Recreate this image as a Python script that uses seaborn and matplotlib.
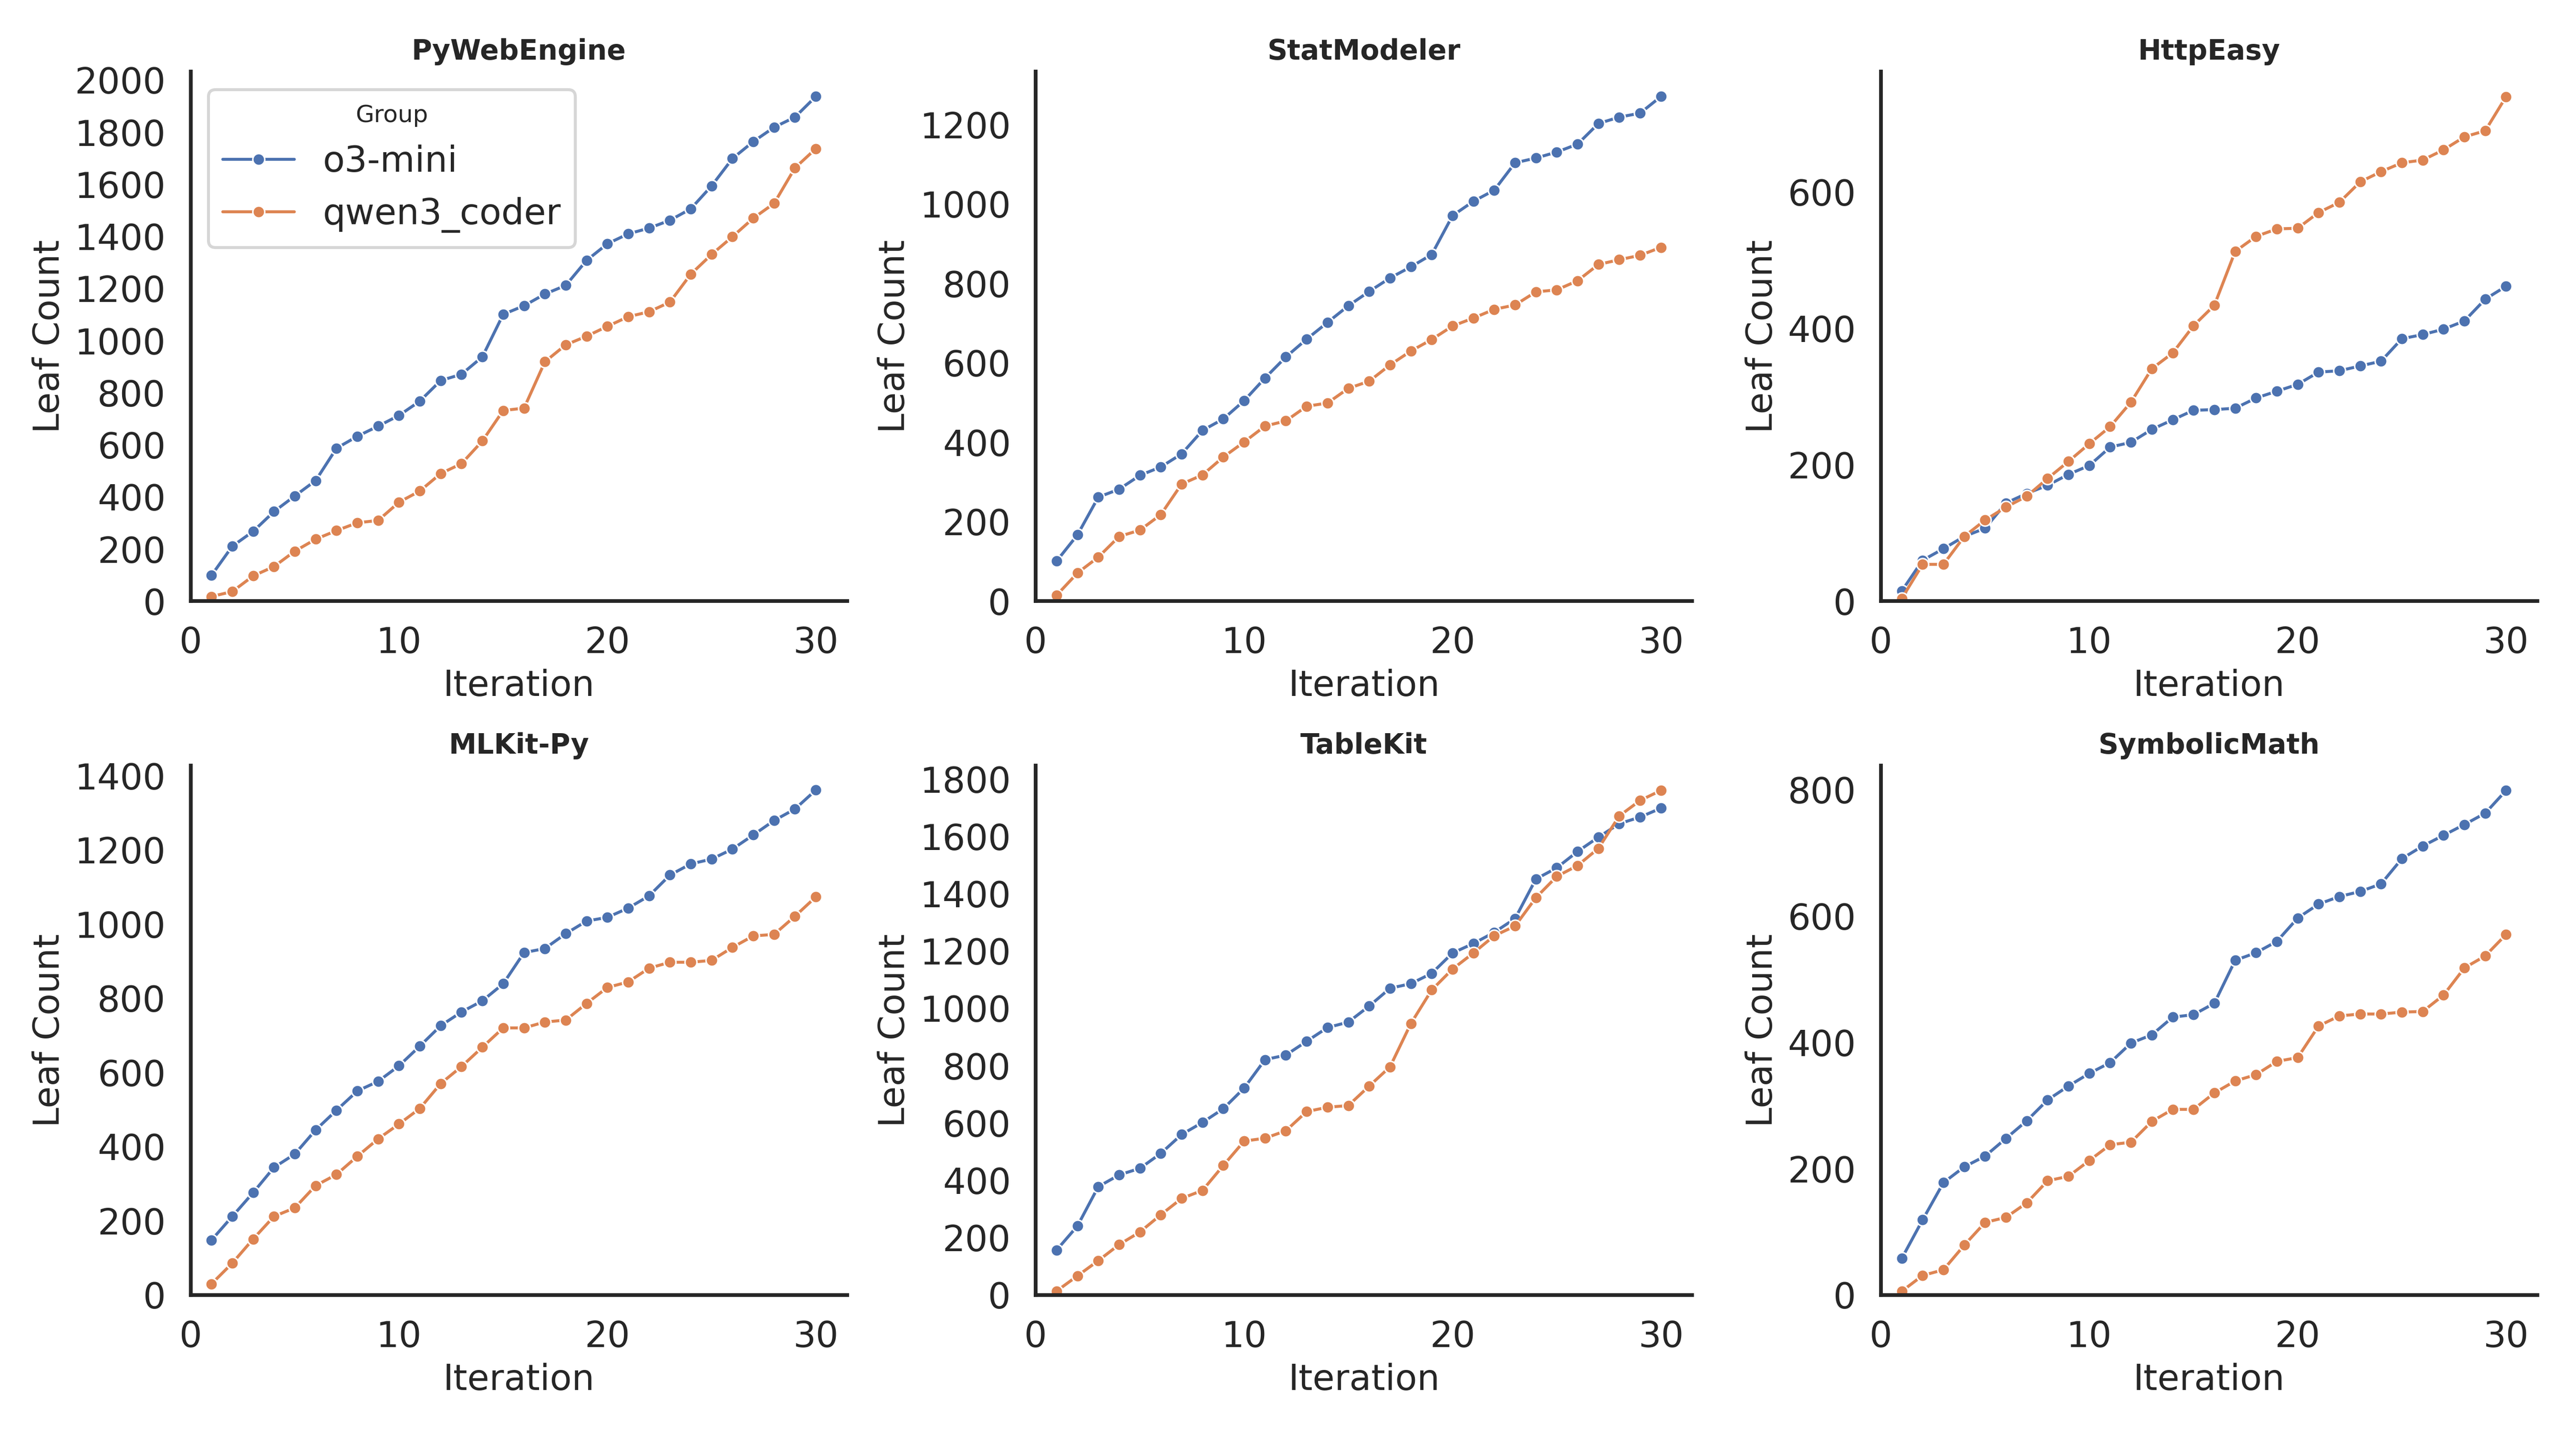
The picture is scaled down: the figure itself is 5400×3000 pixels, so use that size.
import numpy as np
import pandas as pd
import matplotlib.pyplot as plt
from matplotlib.ticker import MultipleLocator
import seaborn as sns

iterations = list(range(1, 31))
groups = ['o3-mini', 'qwen3_coder']
projects = ['PyWebEngine', 'StatModeler', 'HttpEasy', 'MLKit-Py', 'TableKit', 'SymbolicMath']

# leaf counts per project
pyweb_o3 = [99, 211, 268, 344, 404, 463, 587, 633, 672, 713, 768, 847, 871, 938, 1101,
            1134, 1179, 1212, 1308, 1372, 1410, 1432, 1462, 1506, 1594, 1699, 1764, 1819, 1858, 1937]
pyweb_qwen = [18, 37, 97, 133, 192, 238, 271, 301, 310, 380, 423, 490, 528, 615, 732,
              741, 919, 984, 1017, 1055, 1092, 1111, 1148, 1255, 1331, 1399, 1470, 1527, 1663, 1737]
stat_o3 = [101, 167, 262, 282, 317, 338, 371, 430, 459, 505, 562, 615, 660, 702, 744,
           780, 814, 842, 873, 971, 1007, 1035, 1104, 1116, 1131, 1151, 1203, 1219, 1229, 1271]
stat_qwen = [15, 71, 111, 163, 179, 218, 295, 318, 363, 401, 441, 454, 491, 499, 536,
             554, 595, 630, 659, 693, 713, 735, 746, 779, 784, 807, 848, 860, 871, 891]
http_o3 = [15, 60, 77, 95, 107, 144, 158, 170, 186, 199, 226, 233, 252, 266, 280,
           281, 283, 298, 308, 318, 336, 338, 345, 352, 385, 391, 399, 411, 443, 462]
http_qwen = [4, 54, 54, 95, 119, 138, 154, 180, 205, 231, 256, 292, 341, 364, 404,
             434, 513, 535, 546, 547, 570, 585, 615, 630, 643, 647, 662, 681, 690, 740]
mlkit_o3 = [148, 212, 276, 344, 380, 445, 498, 550, 576, 618, 671, 726, 763, 793, 839,
            923, 934, 974, 1008, 1018, 1043, 1076, 1132, 1162, 1175, 1202, 1240, 1279, 1310, 1361]
mlkit_qwen = [30, 86, 151, 212, 235, 295, 325, 374, 421, 461, 503, 570, 616, 668, 720,
              720, 736, 741, 786, 829, 844, 881, 897, 897, 902, 937, 968, 972, 1021, 1073]
table_o3 = [157, 241, 378, 419, 442, 494, 560, 602, 650, 722, 821, 837, 885, 933, 952,
            1008, 1070, 1086, 1122, 1193, 1226, 1265, 1313, 1451, 1490, 1547, 1597, 1644, 1667, 1698]
table_qwen = [14, 67, 120, 176, 220, 280, 337, 365, 452, 537, 547, 573, 640, 655, 661,
              729, 796, 947, 1064, 1137, 1193, 1253, 1287, 1386, 1460, 1498, 1558, 1671, 1725, 1760]
sym_o3 = [58, 119, 178, 203, 220, 248, 276, 309, 331, 351, 368, 399, 412, 440, 444,
          462, 530, 542, 560, 597, 619, 631, 639, 651, 691, 711, 728, 745, 763, 799]
sym_qwen = [6, 31, 40, 79, 115, 123, 146, 181, 188, 213, 238, 242, 275, 294, 294,
            320, 339, 349, 370, 376, 426, 442, 445, 445, 448, 449, 475, 518, 537, 571]

series = {
    'PyWebEngine': (pyweb_o3, pyweb_qwen),
    'StatModeler': (stat_o3, stat_qwen),
    'HttpEasy': (http_o3, http_qwen),
    'MLKit-Py': (mlkit_o3, mlkit_qwen),
    'TableKit': (table_o3, table_qwen),
    'SymbolicMath': (sym_o3, sym_qwen),
}

rows = []
for proj in projects:
    for g, vals in zip(groups, series[proj]):
        for it, v in zip(iterations, vals):
            rows.append({'Project': proj, 'Group': g, 'Iteration': it, 'Leaf Count': v})
df = pd.DataFrame(rows)

sns.set_theme(style='white', context='talk')
palette = sns.color_palette('deep', 2)

fig, axes = plt.subplots(2, 3, figsize=(18, 10))
for ax, proj in zip(axes.flat, projects):
    sub = df[df['Project'] == proj]
    sns.lineplot(data=sub, x='Iteration', y='Leaf Count', hue='Group', hue_order=groups,
                 palette=palette, marker='o', markersize=6, linewidth=1.5, ax=ax,
                 legend=(proj == 'PyWebEngine'))
    ax.set_title(proj, fontsize=14, fontweight='bold')
    ax.set_ylim(bottom=0)
    ax.yaxis.set_major_locator(MultipleLocator(200))
    ax.set_xticks([0, 10, 20, 30])
    ax.set_xlim(0, 31.5)
    ax.tick_params(labelsize=18)
    ax.xaxis.label.set_size(18)
    ax.yaxis.label.set_size(18)
    sns.despine(ax=ax)
    if proj == 'PyWebEngine':
        ax.legend(title='Group', loc='upper left', fontsize=18, title_fontsize=12)

plt.subplots_adjust(left=0.074, right=0.985, top=0.95, bottom=0.095, wspace=0.2875, hspace=0.31)
plt.savefig('out.png', dpi=300)
